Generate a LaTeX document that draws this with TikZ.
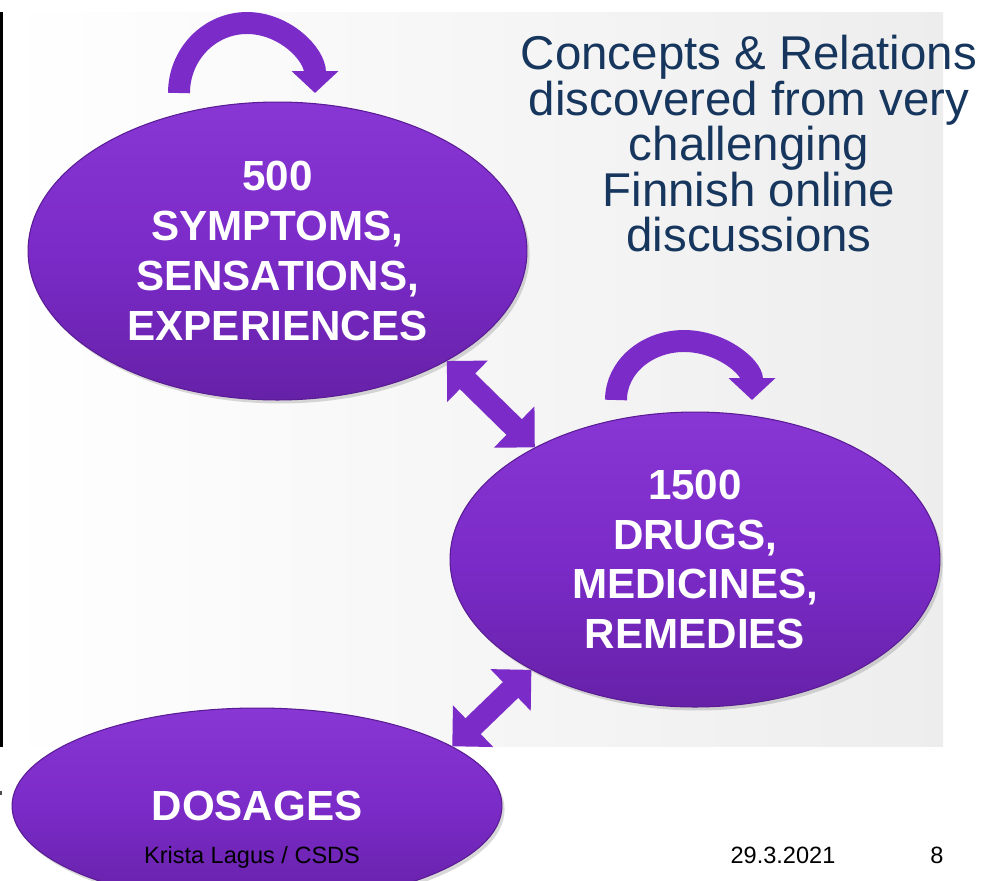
\documentclass[tikz,border=0pt]{standalone}
\usepackage{fontspec}
\setmainfont{Liberation Sans}
\usetikzlibrary{arrows.meta,shapes.geometric,shadows}

\definecolor{violettop}{HTML}{8836D4}
\definecolor{violetmid}{HTML}{7B2BC8}
\definecolor{violetbot}{HTML}{6621A8}
\definecolor{violetedge}{HTML}{5A1C94}
\definecolor{titleblue}{HTML}{17365D}

\newcommand{\titlefont}{\fontsize{27}{25.9}\selectfont\lineskiplimit=-20pt\lineskip=0pt\relax}

\begin{document}
\begin{tikzpicture}[x=0.02cm,y=-0.02cm,thick,
  concept node/.style={ellipse,draw=violetedge,line width=0.6pt,top color=violettop,bottom color=violetbot,middle color=violetmid,inner sep=0pt,text=white,align=center,font=\bfseries\fontsize{24}{28.4}\selectfont,drop shadow={opacity=0.3,shadow xshift=1.5pt,shadow yshift=-2pt}},
  self arrow/.style={draw=violetmid,line width=12.5pt,-{Triangle[width=26pt,length=12.5pt]}},
  relation arrow/.style={draw=violetmid,line width=12.5pt,{Triangle[width=32pt,length=16.5pt]}-{Triangle[width=32pt,length=16.5pt]}}]
\tikzstyle{footer text} = [font=\fontsize{13.4}{16}\selectfont,text=black,anchor=base,inner sep=0pt]

\useasboundingbox (0,0) rectangle (984,880);
\clip (0,0) rectangle (984,880);

% Slide background
\fill[white] (0,0) rectangle (984,880);
\shade[left color=white,right color=black!7] (3,12) rectangle (943,746);
\fill[black] (0,12) rectangle (3,747);
\fill[black!70] (0,791) rectangle (2,795);

% Loop start points
\coordinate (symloop) at (179,93);
\coordinate (drugloop) at (616,400);

% Concepts
\node[concept node,minimum width=9.98cm,minimum height=5.96cm] (sym) at (277.5,251) {500\\SYMPTOMS,\\SENSATIONS,\\EXPERIENCES};
\node[concept node,minimum width=9.8cm,minimum height=5.9cm] (drug) at (695,559.5) {1500\\DRUGS,\\MEDICINES,\\REMEDIES};
\node[concept node,minimum width=9.8cm,minimum height=3.92cm] (dose) at (257,806) {DOSAGES};

% Relations within a concept
\draw[self arrow] (symloop) arc[start angle=180,end angle=360,x radius=68,y radius=70];
\draw[self arrow] (drugloop) arc[start angle=180,end angle=360,x radius=68,y radius=59];

% Relations between concepts
\draw[relation arrow] (sym.-33) -- (drug.145);
\draw[relation arrow] (drug.-146) -- (dose.17);

% Title
\node[text=titleblue,align=center,font=\titlefont] (title) at (749,144) {Concepts \& Relations\\discovered from very\\challenging\\Finnish online\\discussions};

% Footer
\node[footer text] (author) at (252,863) {Krista Lagus / CSDS};
\node[footer text] (date) at (783,863) {29.3.2021};
\node[footer text] (page) at (937,863) {8};

\end{tikzpicture}
\end{document}
